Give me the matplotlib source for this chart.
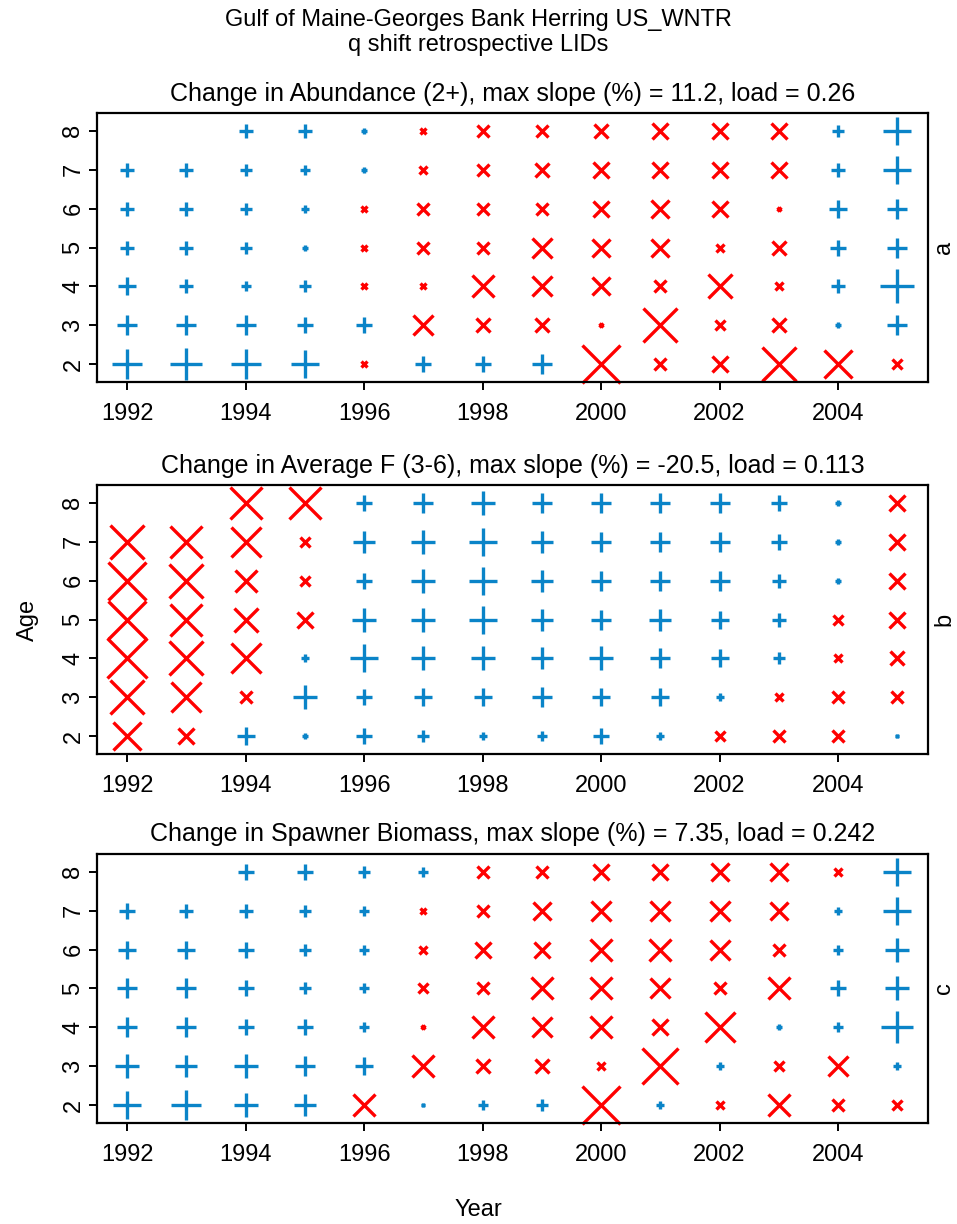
import numpy as np
import matplotlib
matplotlib.use("Agg")
import matplotlib.pyplot as plt

plt.rcParams['font.family'] = ['Liberation Sans', 'DejaVu Sans']

years = list(range(1992, 2006))
ages = [2, 3, 4, 5, 6, 7, 8]
nan = np.nan

# Signed LID magnitudes by age (rows, age 8 first) and year (columns).
# Positive values are drawn as blue "+", negative values as red "x".
abundance = [
    [nan, nan, 2.6, 2.6, 1.2, -1.2, -2.2, -2.2, -2.6, -3.0, -3.0, -3.0, 2.2, 5.0],   # age 8
    [2.6, 2.6, 2.2, 1.8, 1.2, -1.4, -2.2, -2.6, -3.0, -3.0, -3.0, -3.0, 2.6, 5.0],   # age 7
    [2.6, 2.6, 2.2, 1.4, -1.2, -2.2, -2.2, -2.2, -3.0, -3.4, -3.0, -0.8, 3.4, 3.8],  # age 6
    [2.6, 2.6, 2.2, 1.0, -1.0, -2.2, -2.2, -3.8, -3.4, -3.4, -1.6, -2.6, 3.0, 3.8],  # age 5
    [3.4, 2.6, 1.8, 2.2, -1.2, -1.2, -4.2, -3.8, -3.4, -2.2, -4.6, -1.4, 2.6, 6.2],  # age 4
    [3.8, 3.8, 3.8, 3.0, 3.0, -3.8, -2.6, -2.6, -0.8, -6.2, -1.8, -2.6, 1.2, 3.8],   # age 3
    [5.4, 5.8, 5.4, 5.0, -1.2, 3.0, 3.0, 3.8, -7.0, -2.2, -3.0, -6.2, -5.0, -1.8],   # age 2
]

avg_f = [
    [nan, nan, -5.8, -5.8, 3.0, 3.8, 4.6, 3.8, 3.8, 3.8, 3.8, 3.0, 1.2, -3.0],       # age 8
    [-6.2, -5.8, -5.4, -1.8, 4.2, 4.6, 5.0, 4.2, 3.8, 3.8, 3.8, 3.0, 1.0, -3.0],     # age 7
    [-7.0, -6.2, -4.2, -1.8, 3.0, 4.6, 5.0, 4.2, 3.8, 3.8, 3.8, 2.6, 1.0, -3.0],     # age 6
    [-7.0, -5.8, -4.6, -3.0, 4.6, 4.6, 5.0, 4.2, 3.8, 4.2, 3.4, 2.6, -2.0, -3.0],    # age 5
    [-7.4, -6.2, -5.4, 1.4, 5.0, 4.6, 4.6, 4.2, 4.6, 3.8, 3.4, 2.2, -1.6, -2.6],     # age 4
    [-6.2, -5.4, -2.2, 4.6, 3.0, 3.4, 3.4, 3.8, 3.4, 3.4, 1.6, -1.6, -2.2, -2.2],    # age 3
    [-5.0, -3.0, 3.4, 1.2, 3.0, 2.2, 1.6, 2.0, 3.0, 1.6, -1.8, -2.2, -2.2, 0.8],     # age 2
]

spawner = [
    [nan, nan, 3.0, 3.0, 2.2, 1.8, -2.2, -2.2, -3.0, -3.0, -3.4, -3.4, -1.4, 5.0],   # age 8
    [3.0, 2.6, 2.6, 2.2, 1.8, -1.2, -2.2, -3.4, -3.8, -3.8, -3.8, -3.4, 1.4, 5.0],   # age 7
    [3.4, 3.4, 3.0, 2.2, 1.8, -1.4, -3.0, -3.0, -4.2, -4.2, -3.8, -2.2, 1.8, 4.6],   # age 6
    [3.8, 3.8, 3.0, 2.2, 1.8, -1.8, -2.2, -4.2, -4.2, -3.8, -2.2, -4.2, 3.0, 4.6],   # age 5
    [3.8, 3.8, 3.0, 3.0, 1.8, -0.8, -4.2, -3.8, -4.2, -3.0, -5.4, 1.0, 1.8, 5.8],    # age 4
    [4.6, 4.2, 4.6, 3.8, 3.4, -4.2, -2.6, -2.6, -1.4, -6.6, 1.4, -1.8, -3.8, 1.4],   # age 3
    [5.0, 5.4, 4.6, 4.2, -4.2, 0.8, 1.8, 2.2, -7.0, 1.6, -1.6, -4.2, -2.2, -1.8],    # age 2
]

titles = [
    "Change in Abundance (2+), max slope (%) = 11.2, load = 0.26",
    "Change in Average F (3-6), max slope (%) = -20.5, load = 0.113",
    "Change in Spawner Biomass, max slope (%) = 7.35, load = 0.242",
]
panel_tags = ["a", "b", "c"]
panels = [abundance, avg_f, spawner]

BLUE = "#0A84C8"
RED = "#FF0000"
SIZE_PT = 3.89   # marker points per unit of magnitude
FS = 17
FS_TITLE = 18

W, H = 957, 1224
fig = plt.figure(figsize=(W / 100, H / 100), dpi=100)

left, right = 97, 928
tops = [113, 485, 854]
ax_h = 269

for k, (grid, title, tag) in enumerate(zip(panels, titles, panel_tags)):
    top = tops[k]
    ax = fig.add_axes([left / W, 1 - (top + ax_h) / H, (right - left) / W, ax_h / H])
    vals = np.array(grid, dtype=float)[::-1]  # now row 0 = age 2
    for i, age in enumerate(ages):
        for j, yr in enumerate(years):
            v = vals[i, j]
            if np.isnan(v):
                continue
            marker = "+" if v > 0 else "x"
            color = BLUE if v > 0 else RED
            ax.plot(yr, age, marker=marker, color=color,
                    markersize=abs(v) * SIZE_PT, markeredgewidth=2.4,
                    linestyle="none", clip_on=False)
    ax.set_xlim(1991.49, 2005.52)
    ax.set_ylim(1.54, 8.46)
    ax.set_xticks(range(1992, 2005, 2))
    ax.set_yticks(ages)
    ax.tick_params(axis="both", direction="out", length=6, width=1.4,
                   labelsize=FS)
    ax.tick_params(axis="x", pad=9)
    ax.tick_params(axis="y", pad=3)
    for lab in ax.get_yticklabels():
        lab.set_rotation(90)
        lab.set_va("center")
    for sp in ax.spines.values():
        sp.set_linewidth(1.6)
    ax.set_title(title, fontsize=FS_TITLE, pad=9)
    fig.text(944 / W, 1 - (top + ax_h / 2) / H, tag, rotation=90,
             ha="center", va="center", fontsize=FS)

fig.text(0.5, 1 - 20 / H, "Gulf of Maine-Georges Bank Herring US_WNTR",
         ha="center", va="center", fontsize=FS)
fig.text(0.5, 1 - 45 / H, "q shift retrospective LIDs",
         ha="center", va="center", fontsize=FS)
fig.text(28 / W, 1 - 620 / H, "Age", rotation=90, ha="center", va="center", fontsize=FS)
fig.text(0.5, 1 - 1210 / H, "Year", ha="center", va="center", fontsize=FS)

fig.savefig("out.png", dpi=100)
